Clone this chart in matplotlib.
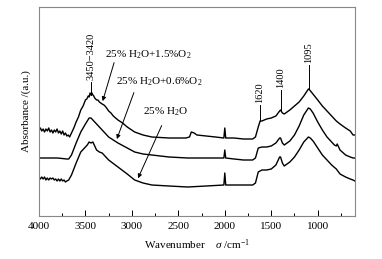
import numpy as np
import matplotlib
matplotlib.use("Agg")
import matplotlib.pyplot as plt

plt.rcParams["font.family"] = ["Liberation Serif", "DejaVu Serif"]
plt.rcParams["mathtext.fontset"] = "custom"
plt.rcParams["mathtext.rm"] = "Liberation Serif"
plt.rcParams["mathtext.it"] = "Liberation Serif:italic"

# wavenumber (cm-1) and absorbance (a.u.)
wn_top = [4000, 3985, 3970, 3955, 3940, 3925, 3910, 3895, 3880, 3865, 3850, 3835,
          3820, 3805, 3790, 3775, 3760, 3745, 3730, 3715, 3700, 3685, 3670,
          3650, 3625, 3600, 3575, 3550, 3525, 3500, 3485, 3470, 3460, 3450, 3440,
          3430, 3420, 3410, 3400, 3380, 3365, 3350, 3320, 3300,
          3280, 3250, 3225, 3200, 3175, 3150, 3100, 3050, 2970, 2880, 2785, 2600,
          2420, 2380,
          2360, 2330, 2300, 2200, 2100, 2010, 2000, 1990, 1900, 1800, 1700, 1670,
          1640, 1620, 1600, 1550, 1500, 1450, 1410, 1400, 1380, 1360, 1300, 1250,
          1200, 1150, 1100, 1095, 1060, 1000, 950, 900, 850, 820, 800, 760, 700,
          650, 620, 600]
ab_top = [0.86, 0.88, 0.85, 0.87, 0.84, 0.87, 0.85, 0.88, 0.84, 0.86, 0.83, 0.86,
          0.84, 0.87, 0.83, 0.85, 0.82, 0.85, 0.81, 0.83, 0.80, 0.81, 0.79,
          0.83, 0.88, 0.94, 0.99, 1.06, 1.10, 1.16, 1.17, 1.20, 1.19, 1.23, 1.21,
          1.23, 1.21, 1.20, 1.18, 1.16, 1.16, 1.14, 1.12, 1.11,
          1.09, 1.05, 1.03, 1.00, 0.98, 0.96, 0.93, 0.89, 0.84, 0.81, 0.79, 0.78,
          0.78, 0.79,
          0.84, 0.83, 0.81, 0.80, 0.79, 0.78, 0.88, 0.78, 0.78, 0.77, 0.77, 0.79,
          0.89, 0.95, 0.95, 0.97, 0.98, 1.00, 1.05, 1.06, 1.03, 1.02, 1.06, 1.10,
          1.14, 1.20, 1.27, 1.27, 1.23, 1.16, 1.10, 1.05, 1.00, 0.97, 0.95, 0.92,
          0.88, 0.85, 0.81, 0.81]

wn_mid = [4000, 3900, 3800, 3700, 3680, 3650, 3600, 3550, 3500, 3460, 3440, 3420,
          3380, 3320, 3250, 3150, 3050, 2970, 2880, 2785, 2600, 2400, 2200, 2010,
          2000, 1990, 1900, 1800, 1700, 1670, 1640, 1600, 1550, 1500, 1450, 1410,
          1400, 1380, 1360, 1300, 1250, 1200, 1150, 1100, 1080, 1050, 1000, 950,
          900, 850, 820, 800, 790, 760, 700, 650, 620, 600]
ab_mid = [0.58, 0.58, 0.58, 0.57, 0.57, 0.61, 0.73, 0.84, 0.92, 0.98, 0.98, 0.96,
          0.92, 0.86, 0.79, 0.73, 0.68, 0.64, 0.62, 0.61, 0.59, 0.58, 0.58, 0.58,
          0.66, 0.58, 0.57, 0.56, 0.56, 0.58, 0.68, 0.69, 0.69, 0.70, 0.73, 0.78,
          0.78, 0.73, 0.71, 0.75, 0.81, 0.90, 1.01, 1.08, 1.07, 1.03, 0.94, 0.86,
          0.79, 0.74, 0.71, 0.70, 0.72, 0.66, 0.61, 0.59, 0.58, 0.58]

wn_bot = [4000, 3985, 3970, 3955, 3940, 3925, 3910, 3895, 3880, 3865, 3850, 3835,
          3820, 3805, 3790, 3775, 3760, 3745, 3730, 3715, 3700, 3680,
          3650, 3600, 3550, 3500, 3480, 3460, 3440, 3420, 3400, 3380, 3350, 3320,
          3250, 3150, 3050,
          2970, 2880, 2785, 2600, 2400, 2200, 2010, 2000, 1990, 1900, 1800, 1700,
          1670, 1640, 1600, 1550, 1500, 1450, 1410, 1400, 1380, 1360, 1300, 1250,
          1200, 1150, 1100, 1080, 1050, 1000, 950, 900, 850, 800, 760, 700, 650,
          620, 600]
ab_bot = [0.39, 0.37, 0.39, 0.37, 0.39, 0.36, 0.38, 0.36, 0.38, 0.37, 0.38, 0.36,
          0.37, 0.35, 0.37, 0.35, 0.37, 0.35, 0.36, 0.34, 0.35, 0.36,
          0.41, 0.53, 0.64, 0.69, 0.71, 0.74, 0.73, 0.74, 0.70, 0.66, 0.64, 0.63,
          0.56, 0.49, 0.42,
          0.36, 0.33, 0.31, 0.30, 0.29, 0.30, 0.31, 0.43, 0.31, 0.31, 0.31, 0.31,
          0.33, 0.44, 0.46, 0.46, 0.47, 0.51, 0.59, 0.59, 0.53, 0.50, 0.54, 0.59,
          0.66, 0.74, 0.79, 0.78, 0.75, 0.68, 0.61, 0.56, 0.51, 0.47, 0.42, 0.39,
          0.37, 0.36, 0.35]

peaks = [("3450\u22123420", 3441), ("1620", 1620), ("1400", 1400), ("1095", 1095)]

fig = plt.figure(figsize=(3.82, 2.59), dpi=100)
ax = fig.add_axes([0.102, 0.166, 0.827, 0.807])

for wn, ab in [(wn_top, ab_top), (wn_mid, ab_mid), (wn_bot, ab_bot)]:
    ax.plot(wn, ab, color="black", lw=1.0)

ax.set_xlim(4000, 600)
ax.set_ylim(0, 2.09)
ax.set_xticks([4000, 3500, 3000, 2500, 2000, 1500, 1000])
ax.set_xticks(np.arange(3750, 600, -500), minor=True)
ax.set_yticks([])
ax.tick_params(axis="x", direction="in", length=4, width=0.7, labelsize=8, pad=4)
ax.tick_params(axis="x", which="minor", direction="in", length=2, width=0.7)
for s in ax.spines.values():
    s.set_color("#888888")
    s.set_linewidth(0.8)

ax.set_xlabel("Wavenumber    $\\it{\\sigma}$ /cm$^{-1}$", fontsize=8, labelpad=5)
ax.set_ylabel("Absorbance /(a.u.)", fontsize=8, labelpad=6)

# peak markers
lab_y = {3441: 1.34, 1620: 1.11, 1400: 1.26, 1095: 1.51}
for txt, w in peaks:
    yc = np.interp(w, wn_top[::-1], ab_top[::-1])
    ax.plot([w, w], [yc, lab_y[w]], color="black", lw=0.7)
    ax.text(w, lab_y[w] + 0.02, txt, rotation=90, ha="center", va="bottom", fontsize=7.5)

# series labels with arrows
ax.text(3290, 1.61, "25% H$_2$O+1.5%O$_2$", fontsize=8, ha="left", va="center")
ax.text(3172, 1.34, "25% H$_2$O+0.6%O$_2$", fontsize=8, ha="left", va="center")
ax.text(2882, 1.04, "25% H$_2$O", fontsize=8, ha="left", va="center")
arrow = dict(arrowstyle="-|>", color="black", lw=0.7, mutation_scale=6)
ax.annotate("", xy=(3323, np.interp(3323, wn_top[::-1], ab_top[::-1])), xytext=(3183, 1.56), arrowprops=arrow)
ax.annotate("", xy=(3172, np.interp(3172, wn_mid[::-1], ab_mid[::-1])), xytext=(2968, 1.26), arrowprops=arrow)
ax.annotate("", xy=(2946, np.interp(2946, wn_bot[::-1], ab_bot[::-1])), xytext=(2667, 0.93), arrowprops=arrow)

fig.savefig("out.png", dpi=100)
